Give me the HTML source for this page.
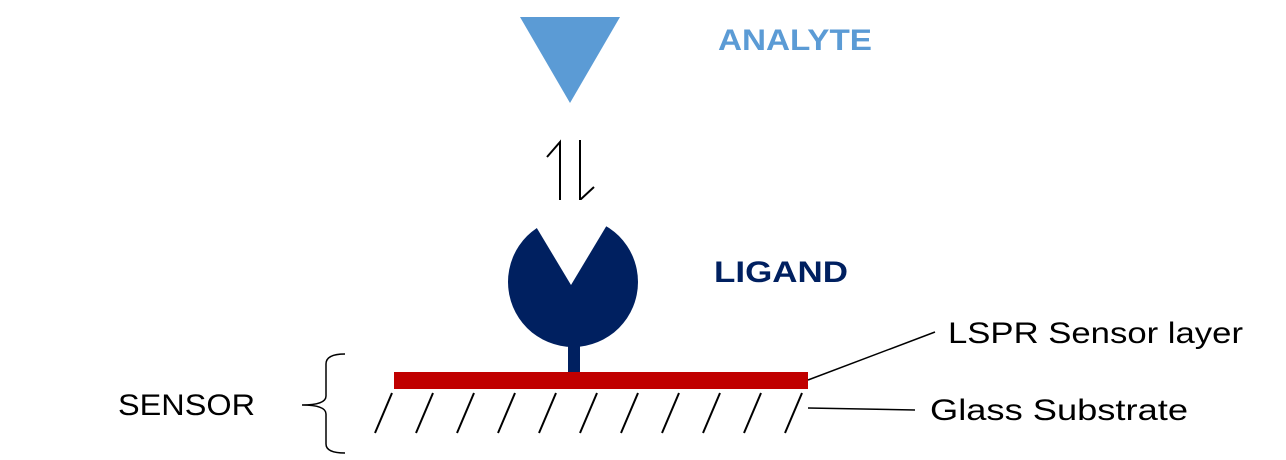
<!DOCTYPE html>
<html><head><style>body{margin:0;background:#fff}</style></head><body>
<svg width="1286" height="460" xmlns="http://www.w3.org/2000/svg" style="display:block">
<polygon points="520,17 620,17 570,103" fill="#5b9bd5"/>
<text x="718" y="50" font-family="Liberation Sans, sans-serif" font-weight="bold" font-size="30" fill="#5b9bd5" textLength="154" lengthAdjust="spacingAndGlyphs">ANALYTE</text>
<g stroke="#000" stroke-width="2" fill="none">
<polyline points="547,157 560,142 560,200"/>
<polyline points="580,140 580,200 594,187"/>
</g>
<circle cx="573" cy="282" r="65" fill="#002060"/>
<polygon points="520,200 571,285 622,200" fill="#fff"/>
<rect x="568" y="340" width="12" height="34" fill="#002060"/>
<text x="714" y="282" font-family="Liberation Sans, sans-serif" font-weight="bold" font-size="30" fill="#002060" textLength="134" lengthAdjust="spacingAndGlyphs">LIGAND</text>
<rect x="394" y="372" width="414" height="17" fill="#c00000"/>
<g stroke="#000" stroke-width="2">
<line x1="392" y1="393" x2="375" y2="433"/><line x1="433" y1="393" x2="416" y2="433"/>
<line x1="474" y1="393" x2="457" y2="433"/><line x1="515" y1="393" x2="498" y2="433"/>
<line x1="556" y1="393" x2="539" y2="433"/><line x1="597" y1="393" x2="580" y2="433"/>
<line x1="638" y1="393" x2="621" y2="433"/><line x1="679" y1="393" x2="662" y2="433"/>
<line x1="720" y1="393" x2="703" y2="433"/><line x1="761" y1="393" x2="744" y2="433"/>
<line x1="802" y1="393" x2="785" y2="433"/>
</g>
<g stroke="#000" stroke-width="1.5" fill="none">
<line x1="808" y1="380" x2="935" y2="332"/>
<line x1="808" y1="408" x2="915" y2="410"/>
<path d="M345,354 Q326,354 326,364 L326,396 Q326,405 302,405 Q326,405 326,414 L326,444 Q326,453 345,453"/>
</g>
<g font-family="Liberation Sans, sans-serif" font-size="30" fill="#000" lengthAdjust="spacingAndGlyphs">
<text x="948" y="343" textLength="295" lengthAdjust="spacingAndGlyphs">LSPR Sensor layer</text>
<text x="930" y="420" textLength="258" lengthAdjust="spacingAndGlyphs">Glass Substrate</text>
<text x="118" y="415" textLength="137" lengthAdjust="spacingAndGlyphs">SENSOR</text>
</g>
</svg>
</body></html>
